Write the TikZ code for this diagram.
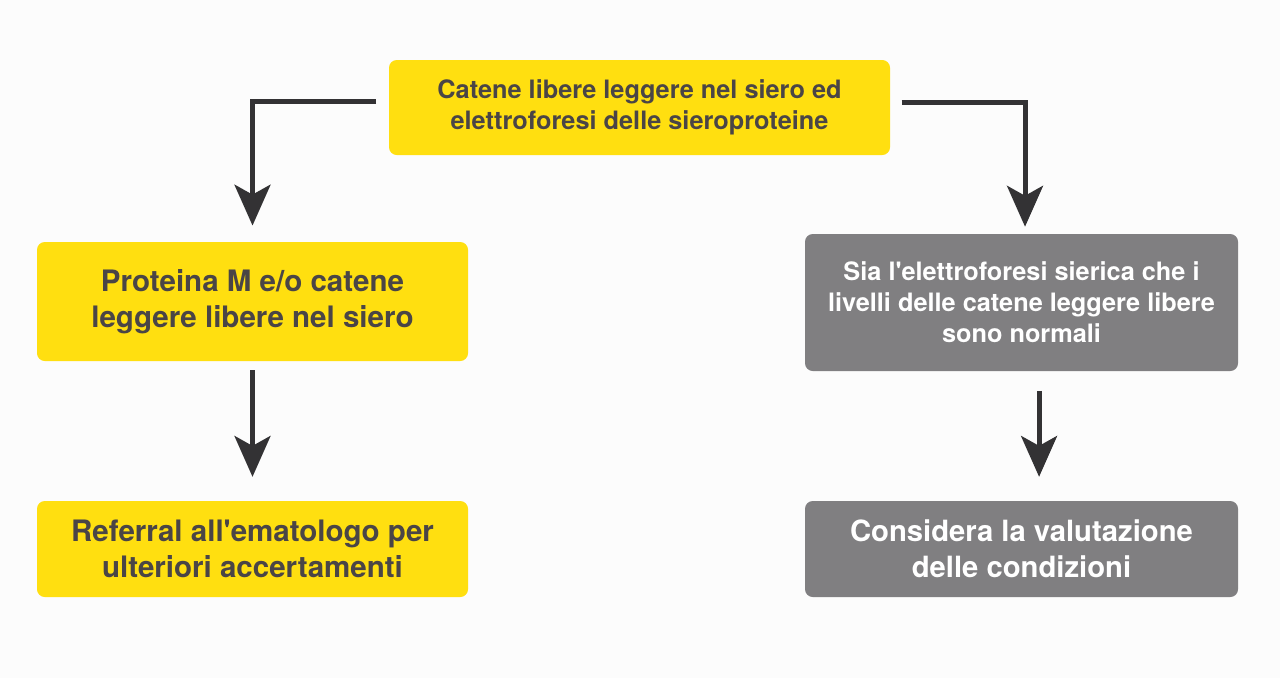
\documentclass[tikz,border=0pt]{standalone}
\usepackage{fontspec}
\newfontfamily\helv{TeX Gyre Heros}
\usetikzlibrary{arrows.meta}
\definecolor{boxyellow}{HTML}{FFDF10}
\definecolor{boxgray}{HTML}{807F81}
\definecolor{textgray}{HTML}{4A4546}
\definecolor{arrowdark}{HTML}{333234}
\begin{document}
\begin{tikzpicture}[x=0.025cm, y=-0.025cm,
    yellowbox/.style={fill=boxyellow, rounded corners=5.5pt, text=textgray, align=center, inner sep=0pt},
    graybox/.style={fill=boxgray, rounded corners=5.5pt, text=white, align=center, inner sep=0pt},
    flow/.style={draw=arrowdark, line width=3.6pt, -{Stealth[length=29pt, width=25.5pt, inset=7pt]}}]
    \fill[white!99!black] (0,0) rectangle (1280,678);
    \useasboundingbox (0,0) rectangle (1280,678);

    % Top box
    \node[yellowbox, minimum width=501*0.025cm, minimum height=95*0.025cm, font=\helv\bfseries\fontsize{18}{22}\selectfont] (top) at (639.5,107.5) {
        Catene libere leggere nel siero ed\\
        elettroforesi delle sieroproteine
    };

    % Left branch
    \node[yellowbox, minimum width=431*0.025cm, minimum height=119*0.025cm, font=\helv\bfseries\fontsize{21}{26}\selectfont] (lmid) at (252.5,301.5) {
        Proteina M e/o catene\\
        leggere libere nel siero
    };
    \node[yellowbox, minimum width=431*0.025cm, minimum height=96*0.025cm, font=\helv\bfseries\fontsize{21}{25.5}\selectfont] (lbot) at (252.5,549) {
        Referral all'ematologo per\\
        ulteriori accertamenti
    };

    % Right branch
    \node[graybox, minimum width=433*0.025cm, minimum height=137*0.025cm, font=\helv\bfseries\fontsize{18}{22}\selectfont] (rmid) at (1021.5,302.5) {
        Sia l'elettroforesi sierica che i\\
        livelli delle catene leggere libere\\
        sono normali
    };
    \node[graybox, minimum width=433*0.025cm, minimum height=96*0.025cm, font=\helv\bfseries\fontsize{20.8}{25.5}\selectfont] (rbot) at (1021.5,549) {
        Considera la valutazione\\
        delle condizioni
    };

    % Arrows
    \draw[flow, shorten <=9pt, shorten >=11.5pt] ([yshift=4pt]top.west) -| (lmid.north);
    \draw[flow, shorten <=8pt, shorten >=5pt] ([yshift=3.5pt]top.east) -| ([xshift=2.5pt]rmid.north);
    \draw[flow, shorten <=6.5pt, shorten >=17pt] (lmid.south) -- (lbot.north);
    \draw[flow, shorten <=14pt, shorten >=17pt] ([xshift=12.5pt]rmid.south) -- ([xshift=12.5pt]rbot.north);
\end{tikzpicture}
\end{document}
